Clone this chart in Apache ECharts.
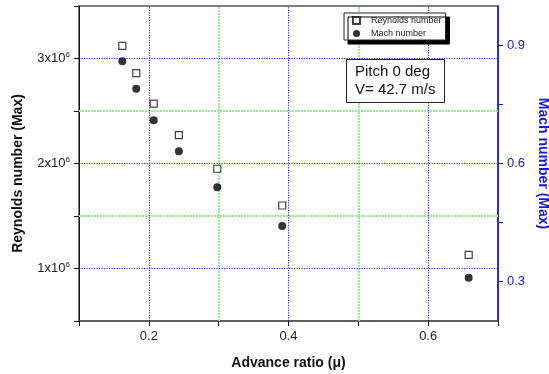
<!DOCTYPE html>
<html><head><meta charset="utf-8">
<script src="https://cdn.jsdelivr.net/npm/echarts@6/dist/echarts.min.js"></script>
<style>html,body{margin:0;padding:0;background:#fff}#c{width:549px;height:374px}</style>
</head><body><div id="c"></div>
<script>
const advanceRatio = [0.162, 0.182, 0.207, 0.243, 0.298, 0.391, 0.658];
const reynolds = [3.12e6, 2.86e6, 2.57e6, 2.27e6, 1.95e6, 1.60e6, 1.13e6];
const mach = [0.860, 0.790, 0.710, 0.631, 0.540, 0.441, 0.310];
const xLabels = [0.2, 0.4, 0.6];
const leftLabels = [1e6, 2e6, 3e6];
const rightTicks = [0.3, 0.45, 0.6, 0.75, 0.9];
const rightLabels = [0.3, 0.6, 0.9];
const xGridBlue = [0.2, 0.4, 0.6];
const yGridBlue = [1e6, 2e6, 3e6];
const xGridGreen = [0.3, 0.5];
const yGridGreen = [1.5e6, 2.5e6];

const chart = echarts.init(document.getElementById('c'), null, {renderer: 'canvas'});
const FONT = 'Liberation Sans, Arial, sans-serif';
const blueLine = {color: '#2a2aff', type: [1.2, 1.3], width: 1.1};
const greenLine = {color: '#90ee90', type: [2, 1], width: 2};
function ml(arr, key, style) { return arr.map(v => ({[key]: v, lineStyle: style})); }
chart.setOption({
  animation: false,
  textStyle: {fontFamily: FONT},
  grid: {left: 79, right: 51, top: 6, bottom: 53, outerBoundsMode: 'none', containLabel: false,
         show: true, borderColor: '#555', borderWidth: 1.5, backgroundColor: 'transparent'},
  title: {
    text: 'Pitch 0 deg\nV= 42.7 m/s', left: 346, top: 59, z: 10,
    borderColor: '#222', borderWidth: 1, padding: [4, 9, 4, 9], backgroundColor: '#fff',
    textStyle: {fontFamily: FONT, fontSize: 15, fontWeight: 'normal', color: '#111', lineHeight: 18}
  },
  legend: {
    orient: 'vertical', left: 344, top: 13, padding: [2, 4, 1, 8], itemGap: 2, z: 10,
    itemWidth: 7, itemHeight: 7,
    backgroundColor: '#fff', borderColor: '#222', borderWidth: 1,
    shadowColor: '#000', shadowBlur: 0, shadowOffsetX: 4, shadowOffsetY: 4,
    textStyle: {fontFamily: FONT, fontSize: 9, lineHeight: 11, color: '#222', padding: [0, 0, 0, 6]},
    data: ['Reynolds number', 'Mach number']
  },
  xAxis: {
    type: 'value', min: 0.1, max: 0.7, interval: 0.1,
    name: 'Advance ratio (\u03bc)', nameLocation: 'middle', nameGap: 35,
    nameTextStyle: {fontFamily: FONT, fontSize: 14, fontWeight: 'bold', color: '#111'},
    axisLine: {lineStyle: {color: '#555', width: 1.5}},
    axisTick: {show: true, length: 5, lineStyle: {color: '#111'}},
    axisLabel: {fontSize: 13, color: '#222', margin: 9,
      formatter: v => xLabels.some(x => Math.abs(x - v) < 1e-6) ? v.toFixed(1) : ''},
    splitLine: {show: false}
  },
  yAxis: [{
    type: 'value', min: 0.5e6, max: 3.5e6, interval: 0.5e6, position: 'left',
    name: 'Reynolds number (Max)', nameLocation: 'middle', nameGap: 54,
    nameTextStyle: {fontFamily: FONT, fontSize: 14, fontWeight: 'bold', color: '#111', padding: [0, 20, 0, 0]},
    axisLine: {show: true, lineStyle: {color: '#111', width: 1}},
    axisTick: {show: true, length: 5, lineStyle: {color: '#111'}},
    axisLabel: {margin: 9, color: '#222',
      formatter: v => leftLabels.some(x => Math.abs(x - v) < 1) ? '{a|' + Math.round(v / 1e6) + 'x10}{s|6}' : '',
      rich: {a: {fontSize: 13, color: '#222', fontFamily: FONT}, s: {fontSize: 8, color: '#222', fontFamily: FONT, verticalAlign: 'bottom', padding: [0, 0, 7, 0]}}},
    splitLine: {show: false}
  }, {
    type: 'value', min: 0.2, max: 1.0, interval: 0.05, position: 'right',
    name: 'Mach number (Max)', nameLocation: 'middle', nameGap: 37, nameRotate: -90,
    nameTextStyle: {fontFamily: FONT, fontSize: 14, fontWeight: 'bold', color: '#1515ee'},
    axisLine: {show: true, lineStyle: {color: '#1515ee', width: 1.5}},
    axisTick: {show: true, length: 5, customValues: rightTicks, lineStyle: {color: '#1515ee'}},
    axisLabel: {margin: 9, fontSize: 13, color: '#1515ee', customValues: rightLabels,
      formatter: v => v.toFixed(1)},
    splitLine: {show: false}
  }],
  series: [{
    name: 'grid', type: 'line', data: [], z: 1, silent: true,
    markLine: {
      silent: true, symbol: 'none', label: {show: false}, animation: false,
      data: [].concat(ml(xGridGreen, 'xAxis', greenLine), ml(yGridGreen, 'yAxis', greenLine),
                      ml(xGridBlue, 'xAxis', blueLine), ml(yGridBlue, 'yAxis', blueLine))
    }
  }, {
    name: 'Reynolds number', type: 'scatter', yAxisIndex: 0, z: 5,
    symbol: 'rect', symbolSize: 7,
    itemStyle: {color: '#fff', borderColor: '#111', borderWidth: 1.2},
    data: advanceRatio.map((x, i) => [x, reynolds[i]])
  }, {
    name: 'Mach number', type: 'scatter', yAxisIndex: 1, z: 5,
    symbol: 'circle', symbolSize: 8,
    itemStyle: {color: '#000'},
    data: advanceRatio.map((x, i) => [x, mach[i]])
  }]
});
</script></body></html>
